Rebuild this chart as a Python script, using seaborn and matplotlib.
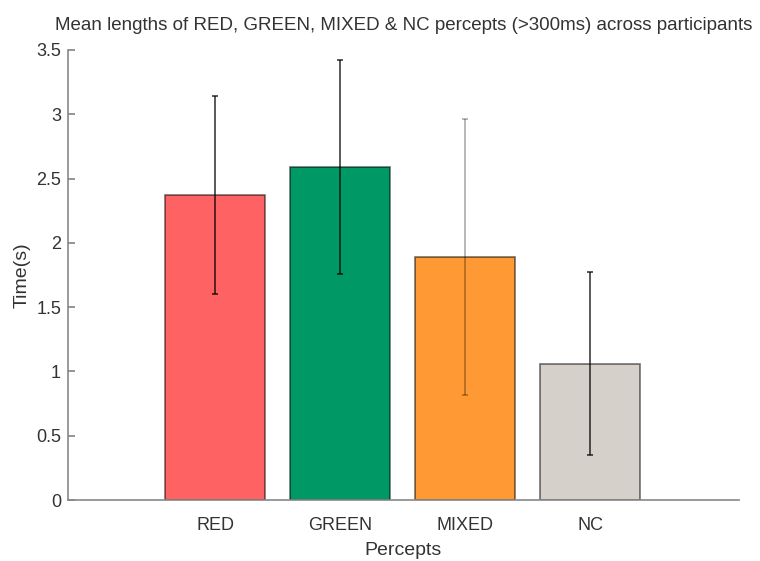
import matplotlib
matplotlib.use("Agg")
import matplotlib.pyplot as plt
import seaborn as sns
import numpy as np
import pandas as pd

# === Values ===
percepts = ["RED", "GREEN", "MIXED", "NC"]
mean_len = [2.37, 2.59, 1.89, 1.06]
err_len = [0.77, 0.83, 1.07, 0.71]
bar_colors = ["#ff6262", "#009966", "#ff9933", "#d5d0ca"]
err_alpha = [0.7, 0.7, 0.3, 0.7]
yticks = [0, 0.5, 1, 1.5, 2, 2.5, 3, 3.5]
ytick_labels = ["0", "0.5", "1", "1.5", "2", "2.5", "3", "3.5"]

df = pd.DataFrame({"Percept": percepts, "Time": mean_len})

sns.set_theme(style="white")
plt.rcParams['font.family'] = ['Liberation Sans', 'DejaVu Sans']

fig = plt.figure(figsize=(7.6, 5.61), dpi=100)
ax = fig.add_axes([0.0895, 0.1087, 0.8825, 0.8023])

sns.barplot(data=df, x="Percept", y="Time", hue="Percept", palette=bar_colors,
            saturation=1, width=0.8, edgecolor=(0, 0, 0, 0.55), linewidth=1.2,
            legend=False, ax=ax)

# error bars drawn by hand (means only, no raw data)
for i, (m, e) in enumerate(zip(mean_len, err_len)):
    ax.errorbar(i, m, yerr=e, fmt="none", ecolor="black", alpha=err_alpha[i],
                elinewidth=1.3, capsize=2.5, capthick=1.3)

ax.set_xlim(-1.18, 4.19)
ax.set_ylim(0, 3.5)
ax.set_yticks(yticks)
ax.set_yticklabels(ytick_labels)

sns.despine(ax=ax)
for s in ["left", "bottom"]:
    ax.spines[s].set_color("#888888")
    ax.spines[s].set_linewidth(1.2)

ax.tick_params(axis="y", direction="in", length=5, color="#888888",
               labelsize=13, labelcolor="#333333", left=True, pad=5)
ax.tick_params(axis="x", length=0, labelsize=13, labelcolor="#333333", pad=12)

ax.set_xlabel("Percepts", fontsize=14, color="#333333", labelpad=6)
ax.set_ylabel("Time(s)", fontsize=14, color="#333333", labelpad=4)
ax.set_title("Mean lengths of RED, GREEN, MIXED & NC percepts (>300ms) across participants",
             fontsize=13.5, color="#333333", pad=14)

plt.savefig("out.png", dpi=100)
